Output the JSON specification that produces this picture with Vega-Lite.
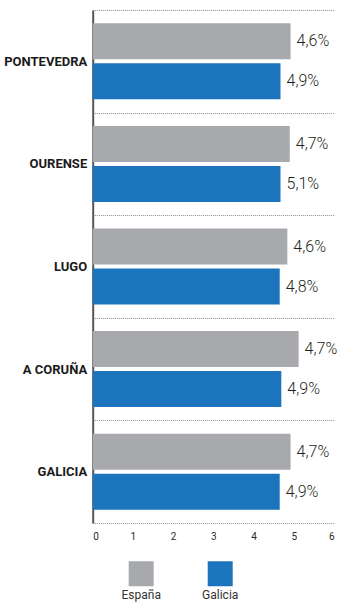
{
  "$schema": "https://vega.github.io/schema/vega-lite/v6.json",
  "autosize": {"type": "none"},
  "padding": {"left": 92.7, "top": 10, "right": 22, "bottom": 91},
  "width": 241.3,
  "height": 513,
  "background": "white",
  "config": {"view": {"stroke": null}, "font": "Roboto"},
  "data": {
    "values": [
      {"region": "PONTEVEDRA", "serie": "España", "value": 4.92, "label": "4,6%"},
      {"region": "PONTEVEDRA", "serie": "Galicia", "value": 4.67, "label": "4,9%"},
      {"region": "OURENSE", "serie": "España", "value": 4.90, "label": "4,7%"},
      {"region": "OURENSE", "serie": "Galicia", "value": 4.67, "label": "5,1%"},
      {"region": "LUGO", "serie": "España", "value": 4.84, "label": "4,6%"},
      {"region": "LUGO", "serie": "Galicia", "value": 4.65, "label": "4,8%"},
      {"region": "A CORUÑA", "serie": "España", "value": 5.12, "label": "4,7%"},
      {"region": "A CORUÑA", "serie": "Galicia", "value": 4.69, "label": "4,9%"},
      {"region": "GALICIA", "serie": "España", "value": 4.92, "label": "4,7%"},
      {"region": "GALICIA", "serie": "Galicia", "value": 4.65, "label": "4,9%"}
    ]
  },
  "encoding": {
    "y": {
      "field": "region",
      "type": "nominal",
      "sort": null,
      "scale": {"paddingInner": 0, "paddingOuter": 0},
      "axis": {
        "title": null,
        "ticks": false,
        "tickBand": "extent",
        "labelFont": "Roboto",
        "labelFontWeight": "bold",
        "labelFontSize": 13,
        "labelColor": "#1a1a1a",
        "labelPadding": 6,
        "domainColor": "#555555",
        "domainWidth": 2,
        "grid": true,
        "gridColor": "#8f8f8f",
        "gridDash": [1, 1],
        "gridWidth": 1
      }
    },
    "yOffset": {
      "field": "serie",
      "type": "nominal",
      "scale": {"paddingInner": 0.1, "paddingOuter": 0.3325}
    },
    "x": {
      "field": "value",
      "type": "quantitative",
      "scale": {"domain": [0, 6], "nice": false},
      "axis": {
        "title": null,
        "values": [0, 1, 2, 3, 4, 5, 6],
        "format": "d",
        "ticks": false,
        "domain": false,
        "grid": false,
        "labelFont": "Roboto",
        "labelFontSize": 10,
        "labelColor": "#2a2a2a",
        "labelPadding": 8
      }
    }
  },
  "layer": [
    {
      "mark": {"type": "bar", "cornerRadius": 0},
      "encoding": {
        "color": {
          "field": "serie",
          "type": "nominal",
          "scale": {"domain": ["España", "Galicia"], "range": ["#A7A9AC", "#1C75BC"]},
          "legend": {
            "title": null,
            "orient": "none",
            "legendX": 36,
            "legendY": 551,
            "direction": "horizontal",
            "symbolType": "square",
            "symbolSize": 625,
            "symbolStrokeWidth": 0,
            "symbolOpacity": 1,
            "labelFont": "Roboto",
            "labelFontSize": 12,
            "labelColor": "#333333",
            "labelAlign": "center",
            "labelBaseline": "top",
            "labelOffset": -12.5,
            "columnPadding": 40,
            "padding": 0,
            "encode": {
              "labels": {"update": {"dy": {"value": 16}}}
            }
          }
        }
      }
    },
    {
      "mark": {
        "type": "text",
        "align": "left",
        "baseline": "middle",
        "dx": 6,
        "font": "Roboto",
        "fontWeight": 300,
        "fontSize": 16,
        "color": "#231F20"
      },
      "encoding": {"text": {"field": "label"}}
    }
  ]
}
